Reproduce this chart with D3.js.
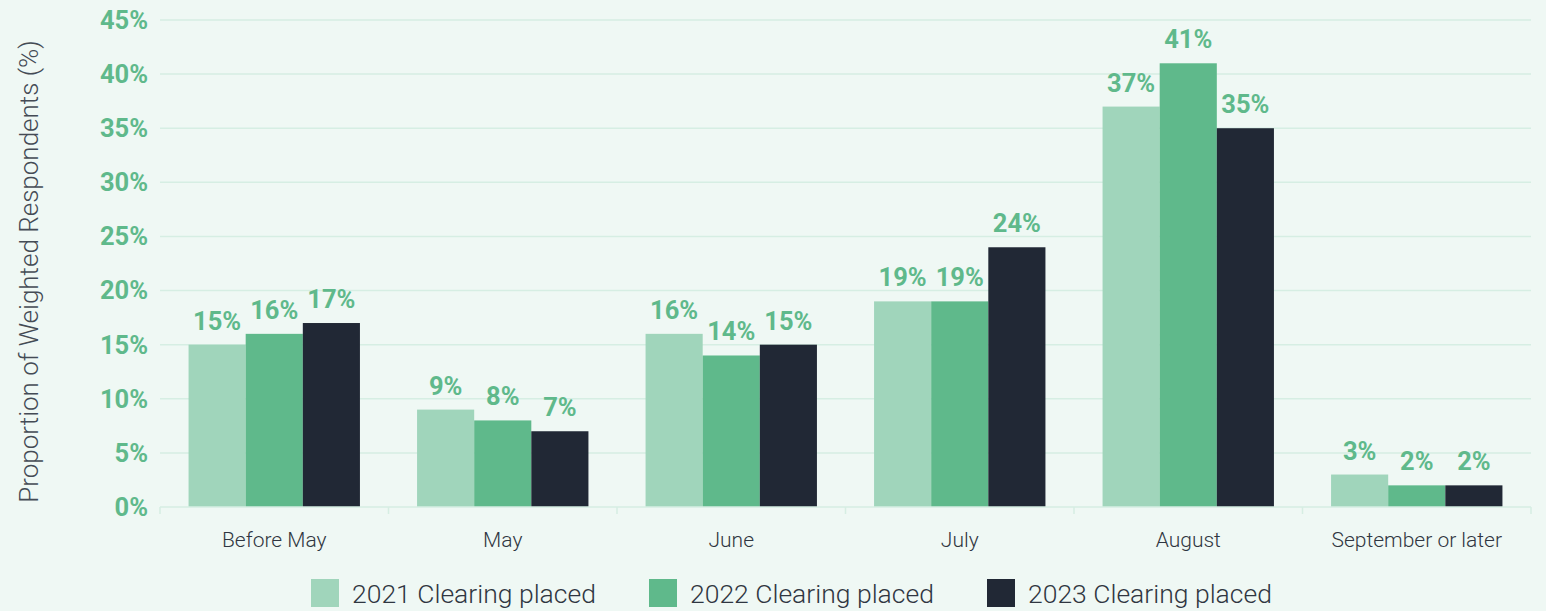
<!DOCTYPE html>
<html>
<head>
<meta charset="utf-8">
<script src="https://cdn.jsdelivr.net/npm/d3@7"></script>
<style>
  body { margin: 0; background: #eff8f4; }
  svg { display: block; font-family: Roboto, sans-serif; }
</style>
</head>
<body>
<svg id="chart"></svg>
<script>
var categories = ["Before May", "May", "June", "July", "August", "September or later"]
var seriesNames = ["2021 Clearing placed", "2022 Clearing placed", "2023 Clearing placed"]
var values2021 = [15, 9, 16, 19, 37, 3]
var values2022 = [16, 8, 14, 19, 41, 2]
var values2023 = [17, 7, 15, 24, 35, 2]
var yTicks = [0, 5, 10, 15, 20, 25, 30, 35, 40, 45]
var colors = ["#a0d5bb", "#5fb98b", "#212835"]

var initGraph = function(target)
{
    var screen = {width:1546, height:611}
    var margins = {top:20, bottom:104, left:160, right:15}
    var graph = {
        width:screen.width-margins.left-margins.right,
        height:screen.height-margins.top-margins.bottom
    }

    var svg = d3.select(target)
        .attr("width", screen.width)
        .attr("height", screen.height)

    svg.append("rect")
        .attr("width", screen.width)
        .attr("height", screen.height)
        .attr("fill", "#eff8f4")

    var g = svg.append("g")
        .attr("transform", "translate(" + margins.left + "," + margins.top + ")")

    var table = categories.map(function(c, i)
    {
        return {category:c, values:[values2021[i], values2022[i], values2023[i]]}
    })

    var xScale = d3.scaleBand()
        .domain(categories)
        .range([0, graph.width])

    var inner = d3.scaleBand()
        .domain([0, 1, 2])
        .range([xScale.bandwidth()*0.125, xScale.bandwidth()*0.875])

    var yScale = d3.scaleLinear()
        .domain([0, 45])
        .range([graph.height, 0])

    // gridlines
    g.append("g")
        .selectAll("line")
        .data(yTicks.filter(function(t) { return t > 0 }))
        .enter()
        .append("line")
        .attr("x1", 0)
        .attr("x2", graph.width)
        .attr("y1", function(t) { return yScale(t) })
        .attr("y2", function(t) { return yScale(t) })
        .attr("stroke", "#d6eee3")
        .attr("stroke-width", 1.5)

    // y labels
    g.append("g")
        .selectAll("text")
        .data(yTicks)
        .enter()
        .append("text")
        .attr("x", -12)
        .attr("y", function(t) { return yScale(t) })
        .attr("dy", "0.35em")
        .attr("text-anchor", "end")
        .attr("font-size", 25.5)
        .attr("font-weight", "bold")
        .attr("fill", "#5fb98b")
        .text(function(t) { return t + "%" })

    // bars
    var groups = g.selectAll(".group")
        .data(table)
        .enter()
        .append("g")
        .classed("group", true)
        .attr("transform", function(d) { return "translate(" + xScale(d.category) + ",0)" })

    groups.selectAll("rect")
        .data(function(d) { return d.values })
        .enter()
        .append("rect")
        .attr("x", function(v, i) { return inner(i) })
        .attr("width", inner.bandwidth())
        .attr("y", function(v) { return yScale(v) })
        .attr("height", function(v) { return graph.height - yScale(v) })
        .attr("fill", function(v, i) { return colors[i] })

    groups.selectAll("text")
        .data(function(d) { return d.values })
        .enter()
        .append("text")
        .attr("x", function(v, i) { return inner(i) + inner.bandwidth()/2 })
        .attr("y", function(v) { return yScale(v) - 15 })
        .attr("text-anchor", "middle")
        .attr("font-size", 25.5)
        .attr("font-weight", "bold")
        .attr("fill", "#5fb98b")
        .text(function(v) { return v + "%" })

    // x axis
    var xAxis = g.append("g")
        .attr("transform", "translate(0," + graph.height + ")")

    xAxis.append("line")
        .attr("x1", 0)
        .attr("x2", graph.width)
        .attr("stroke", "#d6eee3")
        .attr("stroke-width", 1.5)

    xAxis.selectAll(".tick")
        .data(categories.concat([null]))
        .enter()
        .append("line")
        .attr("x1", function(c) { return c === null ? graph.width : xScale(c) })
        .attr("x2", function(c) { return c === null ? graph.width : xScale(c) })
        .attr("y1", 0)
        .attr("y2", 7)
        .attr("stroke", "#d6eee3")
        .attr("stroke-width", 1.5)

    xAxis.selectAll("text")
        .data(categories)
        .enter()
        .append("text")
        .attr("x", function(c) { return xScale(c) + xScale.bandwidth()/2 })
        .attr("y", 40)
        .attr("text-anchor", "middle")
        .attr("font-size", 21)
        .attr("font-weight", 300)
        .attr("fill", "#2f3641")
        .text(function(c) { return c })

    // y axis title
    svg.append("text")
        .attr("transform", "translate(38," + (margins.top + graph.height/2 + 8) + ") rotate(-90)")
        .attr("text-anchor", "middle")
        .attr("font-size", 26)
        .attr("font-weight", 300)
        .attr("fill", "#444b55")
        .text("Proportion of Weighted Respondents (%)")

    // legend
    var legendX = [311, 649, 987]
    var legend = svg.append("g")
        .selectAll("g")
        .data(seriesNames)
        .enter()
        .append("g")
        .attr("transform", function(s, i) { return "translate(" + legendX[i] + ",579)" })

    legend.append("rect")
        .attr("width", 28)
        .attr("height", 28)
        .attr("fill", function(s, i) { return colors[i] })

    legend.append("text")
        .attr("x", 41)
        .attr("y", 14)
        .attr("dy", "0.36em")
        .attr("font-size", 26.5)
        .attr("font-weight", 300)
        .attr("fill", "#2f3641")
        .text(function(s) { return s })
}

initGraph("#chart")
</script>
</body>
</html>
